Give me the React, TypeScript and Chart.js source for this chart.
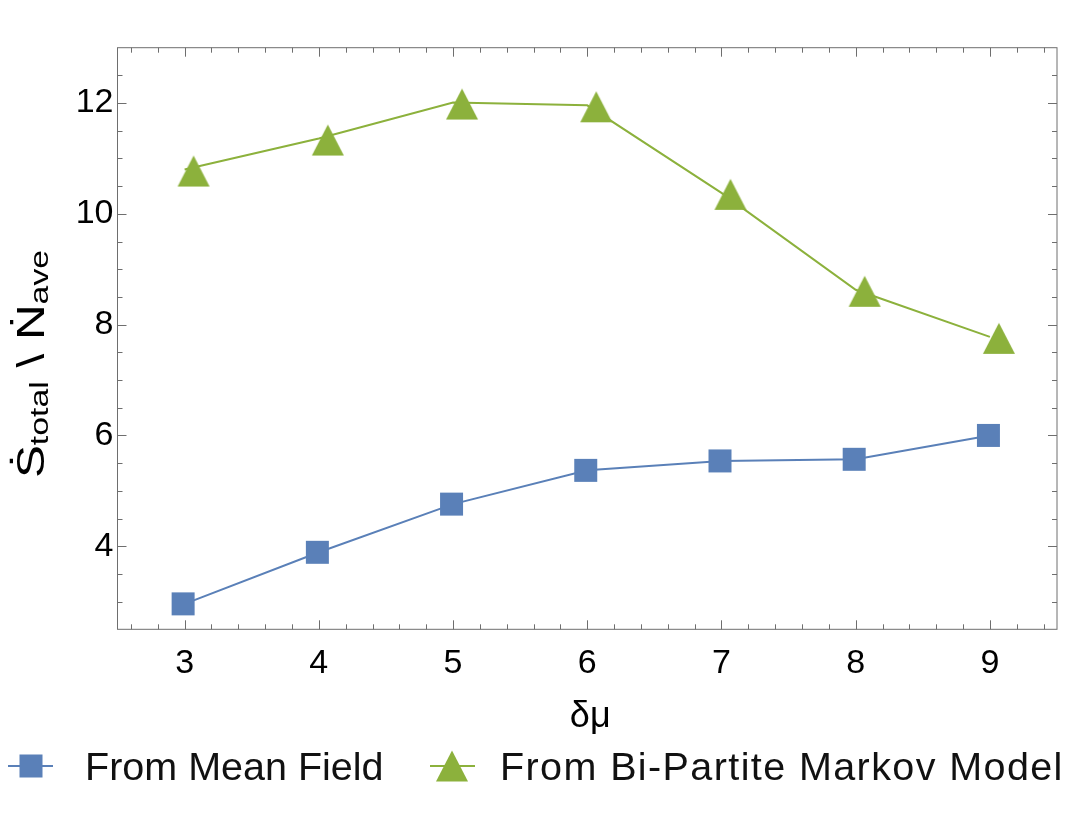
import React, { useEffect, useRef } from "react";
import { Chart, registerables } from "chart.js";

Chart.register(...registerables);

// ---- data ----
const xValues = [3, 4, 5, 6, 7, 8, 9];
const meanField = [2.96, 3.89, 4.76, 5.37, 5.54, 5.57, 6.0];
const biPartite = [10.8, 11.36, 12.01, 11.96, 10.38, 8.63, 7.78];
const xTickValues = [3, 4, 5, 6, 7, 8, 9];
const yTickValues = [4, 6, 8, 10, 12];
const seriesNames = ["From Mean Field", "From Bi-Partite Markov Model"];
const xTitle = "δμ";

// ---- style ----
const BLUE = "#5A80B8";
const GREEN = "#8CB13C";
const FRAME = "#6e6e6e";
const FONT = "'Liberation Sans', Arial, Helvetica, 'DejaVu Sans', sans-serif";

function squareMarker(size: number, color: string, dx: number) {
  const c = document.createElement("canvas");
  c.width = Math.ceil(size + 2 * Math.abs(dx) + 2);
  c.height = Math.ceil(size + 2);
  const ctx = c.getContext("2d")!;
  ctx.fillStyle = color;
  ctx.fillRect(c.width / 2 + dx - size / 2, c.height / 2 - size / 2, size, size);
  return c;
}

function triangleMarker(w: number, h: number, color: string, dx: number, dy: number) {
  const c = document.createElement("canvas");
  c.width = Math.ceil(w + 2 * Math.abs(dx) + 2);
  c.height = Math.ceil(h + 2 * Math.abs(dy) + 2);
  const ctx = c.getContext("2d")!;
  const cx = c.width / 2 + dx;
  const cy = c.height / 2 + dy;
  ctx.fillStyle = color;
  ctx.beginPath();
  ctx.moveTo(cx, cy - h / 2);
  ctx.lineTo(cx + w / 2, cy + h / 2);
  ctx.lineTo(cx - w / 2, cy + h / 2);
  ctx.closePath();
  ctx.fill();
  return c;
}

const framePlugin = {
  id: "frameAndTitles",
  afterDraw(chart: any) {
    const { ctx, chartArea: a, scales } = chart;
    const xs = scales.x;
    const ys = scales.y;
    ctx.save();
    ctx.strokeStyle = FRAME;
    ctx.lineWidth = 1;
    ctx.strokeRect(a.left, a.top, a.right - a.left, a.bottom - a.top);
    const line = (x1: number, y1: number, x2: number, y2: number) => {
      ctx.beginPath();
      ctx.moveTo(x1, y1);
      ctx.lineTo(x2, y2);
      ctx.stroke();
    };
    // x ticks (minor every 0.2, major at integers)
    for (let i = Math.ceil(xs.min / 0.2 - 1e-9); i * 0.2 <= xs.max + 1e-9; i++) {
      const v = i * 0.2;
      if (v <= xs.min + 1e-6 || v >= xs.max - 1e-6) continue;
      const px = Math.round(xs.getPixelForValue(v)) + 0.5;
      const major = Math.abs(v - Math.round(v)) < 1e-6;
      const len = major ? 9 : 5;
      line(px, a.bottom, px, a.bottom - len);
      line(px, a.top, px, a.top + len);
    }
    // y ticks (minor every 0.5, major every 2)
    for (let i = Math.ceil(ys.min / 0.5 - 1e-9); i * 0.5 <= ys.max + 1e-9; i++) {
      const v = i * 0.5;
      if (v <= ys.min + 1e-6 || v >= ys.max - 1e-6) continue;
      const py = Math.round(ys.getPixelForValue(v)) + 0.5;
      const major = Math.abs(v / 2 - Math.round(v / 2)) < 1e-6;
      const len = major ? 9 : 5;
      line(a.left, py, a.left + len, py);
      line(a.right, py, a.right - len, py);
    }

    // x title
    ctx.fillStyle = "#000";
    ctx.font = `36px ${FONT}`;
    ctx.textAlign = "center";
    ctx.textBaseline = "alphabetic";
    ctx.fillText(xTitle, (a.left + a.right) / 2 + 3, 727);

    // y title (rotated, with subscripts), stretched along the text direction
    const parts = [
      { t: "Ṡ", s: 38, dy: 0 },
      { t: "total", s: 26, dy: 4 },
      { t: " \\ ", s: 38, dy: 0 },
      { t: "Ṅ", s: 38, dy: 0 },
      { t: "ave", s: 26, dy: 4 },
    ];
    let total = 0;
    const widths = parts.map((p) => {
      ctx.font = `${p.s}px ${FONT}`;
      const w = ctx.measureText(p.t).width;
      total += w;
      return w;
    });
    ctx.translate(44, 364);
    ctx.rotate(-Math.PI / 2);
    ctx.scale(1.3, 1);
    ctx.textAlign = "left";
    let cx = -total / 2;
    parts.forEach((p, i) => {
      ctx.font = `${p.s}px ${FONT}`;
      ctx.fillText(p.t, cx, p.dy);
      cx += widths[i];
    });
    ctx.restore();
  },
};

function LegendMarker({ kind, color }: { kind: string; color: string }) {
  return (
    <svg width={70} height={40} style={{ position: "absolute", left: 0, top: 0 }}>
      <line x1={0} y1={20} x2={45} y2={20} stroke={color} strokeWidth={2} />
      {kind === "square" ? (
        <rect x={23 - 11.5} y={20 - 11.5} width={23} height={23} fill={color} />
      ) : (
        <polygon points={`${22},${20 - 15.5} ${22 + 16},${20 + 15.5} ${22 - 16},${20 + 15.5}`} fill={color} />
      )}
    </svg>
  );
}

export default function App() {
  const canvasRef = useRef<HTMLCanvasElement | null>(null);

  useEffect(() => {
    const canvas = canvasRef.current;
    if (!canvas) return;
    const sq = squareMarker(23, BLUE, -1.5);
    const tri = triangleMarker(32, 31, GREEN, 9, 1.5);
    const chart = new Chart(canvas, {
      type: "line",
      data: {
        datasets: [
          {
            label: seriesNames[0],
            data: xValues.map((x, i) => ({ x, y: meanField[i] })),
            borderColor: BLUE,
            backgroundColor: BLUE,
            borderWidth: 2,
            pointStyle: sq as any,
            pointRadius: 12,
            pointHoverRadius: 12,
            tension: 0,
          },
          {
            label: seriesNames[1],
            data: xValues.map((x, i) => ({ x, y: biPartite[i] })),
            borderColor: GREEN,
            backgroundColor: GREEN,
            borderWidth: 2,
            pointStyle: tri as any,
            pointRadius: 16,
            pointHoverRadius: 16,
            tension: 0,
          },
        ],
      },
      options: {
        animation: false,
        responsive: false,
        events: [],
        layout: { padding: { top: 47.7, right: 14.3, left: 0, bottom: 0 } },
        plugins: {
          legend: { display: false },
          tooltip: { enabled: false },
          title: { display: false },
        },
        scales: {
          x: {
            type: "linear",
            min: 2.5,
            max: 9.5,
            grid: { display: false, drawTicks: false },
            border: { display: false },
            afterBuildTicks: (s: any) => {
              s.ticks = xTickValues.map((v) => ({ value: v }));
            },
            afterFit: (s: any) => {
              s.height = 830 - 629.3;
            },
            ticks: {
              font: { family: FONT, size: 34 },
              color: "#000",
              padding: 14,
              maxRotation: 0,
              autoSkip: false,
            },
          },
          y: {
            type: "linear",
            min: 2.5,
            max: 13,
            grid: { display: false, drawTicks: false },
            border: { display: false },
            afterBuildTicks: (s: any) => {
              s.ticks = yTickValues.map((v) => ({ value: v }));
            },
            afterFit: (s: any) => {
              s.width = 117.5;
            },
            ticks: {
              font: { family: FONT, size: 34 },
              color: "#000",
              padding: 4,
              autoSkip: false,
            },
          },
        },
      },
      plugins: [framePlugin],
    });
    return () => chart.destroy();
  }, []);

  const legendItems = [
    { name: seriesNames[0], kind: "square", color: BLUE, markerLeft: 8, textLeft: 85, spacing: 0 },
    { name: seriesNames[1], kind: "triangle", color: GREEN, markerLeft: 430, textLeft: 500, spacing: 1.4 },
  ];

  return (
    <div style={{ position: "absolute", left: 0, top: 0, width: 1075, height: 830, background: "#fff" }}>
      <canvas ref={canvasRef} width={1075} height={830} style={{ display: "block", width: 1075, height: 830 }} />
      {legendItems.map((it) => (
        <React.Fragment key={it.name}>
          <div style={{ position: "absolute", left: it.markerLeft, top: 746, width: 70, height: 40 }}>
            <LegendMarker kind={it.kind} color={it.color} />
          </div>
          <div
            style={{
              position: "absolute",
              left: it.textLeft,
              top: 747,
              fontFamily: FONT,
              fontSize: 39.5,
              lineHeight: "39.5px",
              letterSpacing: it.spacing,
              whiteSpace: "nowrap",
              color: "#111",
            }}
          >
            {it.name}
          </div>
        </React.Fragment>
      ))}
    </div>
  );
}
